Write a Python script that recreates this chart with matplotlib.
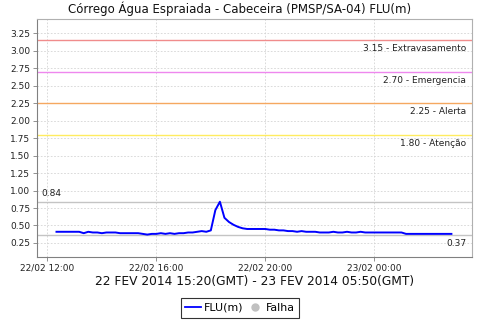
import matplotlib
matplotlib.use("Agg")
import matplotlib.pyplot as plt
import matplotlib.dates as mdates
from matplotlib.lines import Line2D
import numpy as np
import pandas as pd

title = "Córrego Água Espraiada - Cabeceira (PMSP/SA-04) FLU(m)"
xlabel = "22 FEV 2014 15:20(GMT) - 23 FEV 2014 05:50(GMT)"
start_time = "2014-02-22 12:20"
step = "10min"
values = [
    0.41, 0.41, 0.41, 0.41,
    0.41, 0.41, 0.39, 0.41, 0.40, 0.40,
    0.39, 0.40, 0.40, 0.40, 0.39, 0.39,
    0.39, 0.39, 0.39, 0.38, 0.37, 0.38,
    0.38, 0.39, 0.38, 0.39, 0.38, 0.39,
    0.39, 0.40, 0.40, 0.41, 0.42, 0.41,
    0.43, 0.72, 0.84, 0.61, 0.55, 0.51,
    0.48, 0.46, 0.45, 0.45, 0.45, 0.45,
    0.45, 0.44, 0.44, 0.43, 0.43, 0.42,
    0.42, 0.41, 0.42, 0.41, 0.41, 0.41,
    0.40, 0.40, 0.40, 0.41, 0.40, 0.40,
    0.41, 0.40, 0.40, 0.41, 0.40, 0.40,
    0.40, 0.40, 0.40, 0.40, 0.40, 0.40,
    0.40, 0.38, 0.38, 0.38, 0.38, 0.38,
    0.38, 0.38, 0.38, 0.38, 0.38, 0.38,
]
threshold_values = [3.15, 2.70, 2.25, 1.80]
threshold_names = ["Extravasamento", "Emergencia", "Alerta", "Atenção"]
threshold_colors = ["#f08c8c", "#ee88ee", "#f5a860", "#ffec60"]
max_value = 0.84
min_value = 0.37
yticks = [0.25, 0.50, 0.75, 1.00, 1.25, 1.50, 1.75, 2.00, 2.25, 2.50, 2.75, 3.00, 3.25]
xticks = ["2014-02-22 12:00", "2014-02-22 16:00", "2014-02-22 20:00", "2014-02-23 00:00"]
xlim = ["2014-02-22 11:37", "2014-02-23 03:35"]

times = pd.date_range(start_time, periods=len(values), freq=step)

fig = plt.figure(figsize=(4.8, 3.2), dpi=100)
ax = fig.add_axes([0.077, 0.197, 0.906, 0.743])

ax.set_ylim(0.05, 3.45)
ax.set_xlim(pd.Timestamp(xlim[0]), pd.Timestamp(xlim[1]))

ax.grid(True, color="#d4d4d4", linestyle=(0, (2, 2)), linewidth=0.6)
ax.set_axisbelow(True)

for v, n, c in zip(threshold_values, threshold_names, threshold_colors):
    ax.axhline(v, color=c, linewidth=1.0, zorder=2)
    ax.annotate(f"{v:.2f} - {n}", xy=(1, v), xycoords=("axes fraction", "data"),
                xytext=(-4, -3), textcoords="offset points", ha="right", va="top",
                fontsize=6.5, color="#222222")

ax.axhline(max_value, color="#c4c4c4", linewidth=1.0, zorder=2)
ax.axhline(min_value, color="#c4c4c4", linewidth=1.0, zorder=2)
ax.annotate(f"{max_value:.2f}", xy=(0, max_value), xycoords=("axes fraction", "data"),
            xytext=(3, 3), textcoords="offset points", ha="left", va="bottom",
            fontsize=6.5, color="#222222")
ax.annotate(f"{min_value:.2f}", xy=(1, min_value), xycoords=("axes fraction", "data"),
            xytext=(-4, -3), textcoords="offset points", ha="right", va="top",
            fontsize=6.5, color="#222222")

ax.plot(times, values, color="#0000ff", linewidth=1.4, zorder=3)

ax.set_yticks(yticks)
ax.set_yticklabels([f"{t:.2f}" for t in yticks])
ax.set_xticks([pd.Timestamp(t) for t in xticks])
ax.xaxis.set_major_formatter(mdates.DateFormatter("%d/%m %H:%M"))
ax.tick_params(axis="both", labelsize=6.5, length=3, width=0.6, color="#808080",
               pad=2, labelcolor="#222222")

for s in ["left", "bottom"]:
    ax.spines[s].set_color("#808080")
for s in ["top", "right"]:
    ax.spines[s].set_color("#b0b0b0")
for s in ax.spines.values():
    s.set_linewidth(0.8)

fig.text(0.5, 0.972, title, ha="center", va="center", fontsize=8.5, color="#111111")
ax.text(0.5, -0.105, xlabel, transform=ax.transAxes, ha="center", va="center",
        fontsize=8.8, color="#111111")

handles = [Line2D([0], [0], color="#0000ff", linewidth=1.3),
           Line2D([0], [0], marker="o", color="#c0c0c0", linestyle="none", markersize=5)]
leg = fig.legend(handles, ["FLU(m)", "Falha"], loc="center", bbox_to_anchor=(0.5, 0.0375),
                 ncol=2, fontsize=7.9, frameon=True, fancybox=False, handlelength=1.4,
                 handletextpad=0.3, columnspacing=0.3, borderpad=0.45, borderaxespad=0)
leg.get_frame().set_edgecolor("#000000")
leg.get_frame().set_linewidth(0.8)

fig.savefig("out.png", dpi=100)
